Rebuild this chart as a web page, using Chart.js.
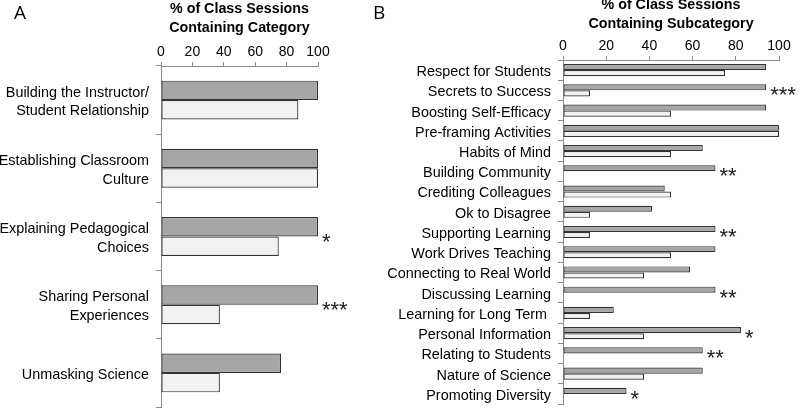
<!DOCTYPE html>
<html><head><meta charset="utf-8">
<script src="https://cdn.jsdelivr.net/npm/chart.js@4.4.0/dist/chart.umd.min.js"></script>
<style>
html,body{margin:0;padding:0;background:#fff;width:800px;height:411px;overflow:hidden;position:relative}
#wa{position:absolute;left:0;top:0;width:400px;height:411px}
#wb{position:absolute;left:360px;top:-4px;width:440px;height:415px}
.pl{position:absolute;top:0;font-family:'Open Sans',sans-serif;font-size:19px;line-height:24px;color:#000}
</style>
</head><body>
<div id="wa"><canvas id="ca"></canvas></div>
<div id="wb"><canvas id="cb"></canvas></div>
<div class="pl" style="left:14px">A</div>
<div class="pl" style="left:373px">B</div>
<script>
// ---- Panel A data ----
const categoriesA = [
  ["Building the Instructor/", "Student Relationship"],
  ["Establishing Classroom", "Culture"],
  ["Explaining Pedagogical", "Choices"],
  ["Sharing Personal", "Experiences"],
  "Unmasking Science"
];
const darkA  = [100, 100, 100, 100, 76.5];
const lightA = [87.5, 100, 75, 37.5, 37.5];
const marksA = ["", "", "*", "***", ""];
const titleA = ["% of Class Sessions", "Containing Category"];

// ---- Panel B data ----
const categoriesB = [
  "Respect for Students", "Secrets to Success", "Boosting Self-Efficacy",
  "Pre-framing Activities", "Habits of Mind", "Building Community",
  "Crediting Colleagues", "Ok to Disagree", "Supporting Learning",
  "Work Drives Teaching", "Connecting to Real World", "Discussing Learning",
  "Learning for Long Term ", "Personal Information", "Relating to Students",
  "Nature of Science", "Promoting Diversity"
];
const darkB  = [94.1, 94.1, 94.1, 100, 64.7, 70.6, 47.1, 41.2, 70.6, 70.6, 58.8, 70.6, 23.5, 82.4, 64.7, 64.7, 29.4];
const lightB = [75, 12.5, 50, 100, 50, 0, 50, 12.5, 12.5, 50, 37.5, 0, 12.5, 37.5, 0, 37.5, 0];
const marksB = ["", "***", "", "", "", "**", "", "", "**", "", "", "**", "", "*", "**", "", "*"];
const titleB = ["% of Class Sessions", "Containing Subcategory"];

const xTicks = [0, 20, 40, 60, 80, 100];

const FONT = '"Liberation Sans", Arial, sans-serif';
const DARK = '#a6a6a6', LIGHT = '#f2f2f2', EDGE = '#333333', AXIS = '#8c8c8c';

const starPlugin = {
  id: 'stars',
  afterDatasetsDraw(chart, args, opts) {
    const ctx = chart.ctx, xs = chart.scales.x, ys = chart.scales.y;
    const vals = chart.data.datasets[0].data;
    ctx.save();
    ctx.font = '22px ' + FONT;
    ctx.fillStyle = '#222';
    ctx.textAlign = 'left';
    ctx.textBaseline = 'alphabetic';
    opts.marks.forEach((m, i) => {
      if (!m) return;
      ctx.fillText(m, xs.getPixelForValue(vals[i]) + 4, ys.getPixelForValue(i) + 12);
    });
    ctx.restore();
  }
};

function makeChart(id, cats, dark, light, marks, title, cfg) {
  return new Chart(document.getElementById(id), {
    type: 'bar',
    data: {
      labels: cats,
      datasets: [
        { label: 'Series 1', data: dark, backgroundColor: DARK, borderColor: EDGE, borderWidth: 1.2, borderSkipped: false },
        { label: 'Series 2', data: light, backgroundColor: LIGHT, borderColor: EDGE, borderWidth: 1.2, borderSkipped: false }
      ]
    },
    plugins: [starPlugin],
    options: {
      indexAxis: 'y',
      responsive: true,
      maintainAspectRatio: false,
      animation: false,
      categoryPercentage: cfg.cp,
      barPercentage: 1.0,
      layout: { padding: { left: 0, right: cfg.padR, top: 0, bottom: cfg.padB } },
      plugins: { legend: { display: false }, tooltip: { enabled: false }, stars: { marks: marks } },
      scales: {
        x: {
          position: 'top', min: 0, max: 100,
          afterBuildTicks: (s) => { s.ticks = xTicks.map(v => ({ value: v })); },
          afterFit: (s) => { s.height = cfg.xH; s.paddingLeft = 0; s.paddingRight = 0; },
          grid: { drawOnChartArea: false, drawTicks: true, tickLength: 4, color: AXIS },
          border: { display: true, color: AXIS },
          ticks: { font: { family: FONT, size: 14 }, color: '#000', padding: 1, maxRotation: 0 },
          title: { display: true, text: title, font: { family: FONT, size: 14.3, weight: 'bold', lineHeight: 1.3 }, color: '#000', padding: { top: 0, bottom: 0 } }
        },
        y: {
          afterFit: (s) => { s.width = cfg.yW; s.paddingTop = 0; s.paddingBottom = 0; },
          grid: { drawOnChartArea: false, drawTicks: true, tickLength: 5, color: AXIS, offset: true },
          border: { display: true, color: AXIS },
          ticks: { font: { family: FONT, size: 14.4, lineHeight: 1.3 }, color: '#000', padding: 7, labelOffset: cfg.lo, autoSkip: false }
        }
      }
    }
  });
}

makeChart('ca', categoriesA, darkA, lightA, marksA, titleA, { cp: 0.57, padR: 82, padB: 4, xH: 66, yW: 161, lo: 2 });
makeChart('cb', categoriesB, darkB, lightB, marksB, titleB, { cp: 0.6, padR: 21, padB: 7, xH: 64, yW: 203, lo: 2 });
</script>
</body></html>
